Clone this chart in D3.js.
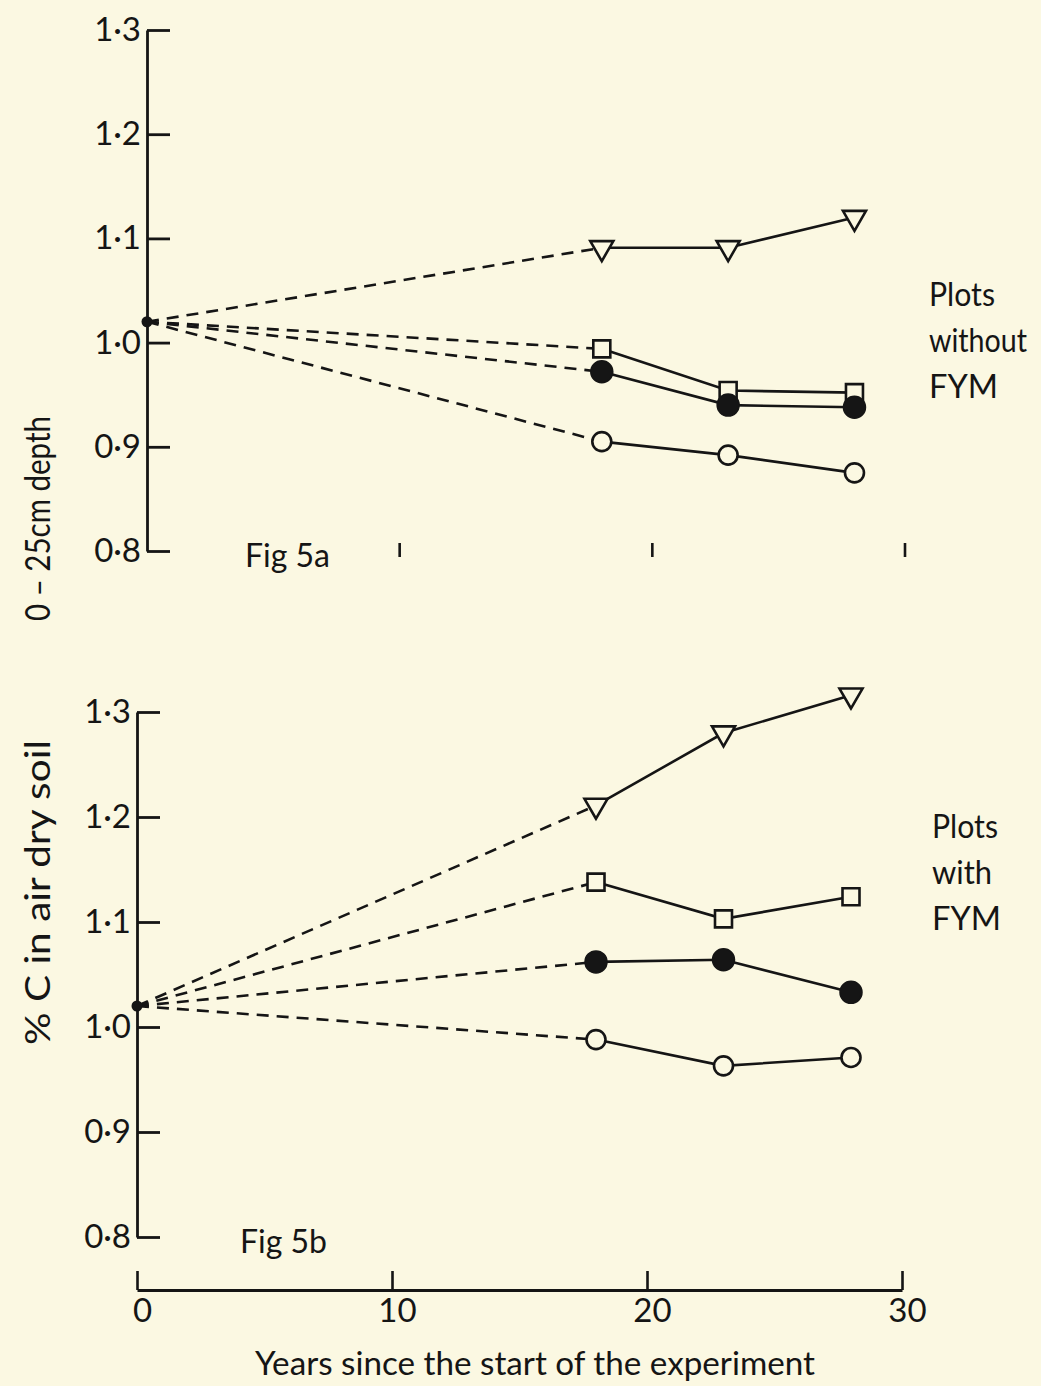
<!DOCTYPE html>
<html>
<head>
<meta charset="utf-8">
<script src="https://cdn.jsdelivr.net/npm/d3@7"></script>
<style>
  html, body { margin: 0; padding: 0; background: #fbf8e2; }
  svg { display: block; }
  text { font-family: Lato, "Noto Sans", sans-serif; fill: #151515; }
</style>
</head>
<body>
<svg id="chart" width="1041" height="1386"></svg>
<script>
// ---- data ----
const years = [18, 23, 28];
const startYear = 0;
const startValue = 1.02;
const yTicks = [0.8, 0.9, 1.0, 1.1, 1.2, 1.3];
const xTicks = [0, 10, 20, 30];

// Fig 5a: plots without FYM
const noFymTriangle = [1.091, 1.091, 1.120];
const noFymSquare   = [0.994, 0.954, 0.952];
const noFymFilled   = [0.972, 0.940, 0.938];
const noFymOpen     = [0.905, 0.892, 0.875];

// Fig 5b: plots with FYM
const fymTriangle = [1.211, 1.280, 1.316];
const fymSquare   = [1.138, 1.103, 1.124];
const fymFilled   = [1.062, 1.064, 1.033];
const fymOpen     = [0.988, 0.963, 0.971];

const ink = "#151515";
const paper = "#fbf8e2";
const svg = d3.select("#chart");
svg.append("rect").attr("width", 1041).attr("height", 1386).attr("fill", paper);

const fmt = d => d3.format(".1f")(d).replace(".", "·");

function panel(cfg) {
  const { x, y, series, figLabel, plotLabel, showXAxis } = cfg;
  const g = svg.append("g");

  const yAxis = d3.axisLeft(y).tickValues(yTicks).tickSizeInner(-23).tickSizeOuter(0)
    .tickPadding(6).tickFormat(fmt);
  const ya = g.append("g").attr("transform", `translate(${x(0)},0)`).call(yAxis);
  ya.select(".domain").attr("stroke", ink).attr("stroke-width", 2.8);
  ya.selectAll(".tick line").attr("stroke", ink).attr("stroke-width", 2.8);
  ya.selectAll(".tick text").attr("font-size", 33).attr("fill", ink)
    .style("font-family", "Lato, 'Noto Sans', sans-serif");

  const line = d3.line().x(d => x(d[0])).y(d => y(d[1]));

  series.forEach(s => {
    const pts = years.map((yr, i) => [yr, s.values[i]]);
    g.append("path").attr("d", line([[startYear, startValue], pts[0]]))
      .attr("fill", "none").attr("stroke", ink).attr("stroke-width", 2.6)
      .attr("stroke-dasharray", "12,8");
    g.append("path").attr("d", line(pts))
      .attr("fill", "none").attr("stroke", ink).attr("stroke-width", 2.6);
  });

  series.forEach(s => {
    years.forEach((yr, i) => {
      const cx = x(yr), cy = y(s.values[i]);
      if (s.shape === "triangle") {
        g.append("path")
          .attr("d", d3.symbol(d3.symbolTriangle, 230)())
          .attr("transform", `translate(${cx},${cy}) rotate(180)`)
          .attr("fill", paper).attr("stroke", ink).attr("stroke-width", 2.6);
      } else if (s.shape === "square") {
        g.append("path")
          .attr("d", d3.symbol(d3.symbolSquare, 17 * 17)())
          .attr("transform", `translate(${cx},${cy})`)
          .attr("fill", paper).attr("stroke", ink).attr("stroke-width", 2.6);
      } else if (s.shape === "filled") {
        g.append("circle").attr("cx", cx).attr("cy", cy).attr("r", 11)
          .attr("fill", ink).attr("stroke", ink).attr("stroke-width", 1.5);
      } else {
        g.append("circle").attr("cx", cx).attr("cy", cy).attr("r", 9.5)
          .attr("fill", paper).attr("stroke", ink).attr("stroke-width", 2.6);
      }
    });
  });

  g.append("circle").attr("cx", x(startYear)).attr("cy", y(startValue)).attr("r", 5.5).attr("fill", ink);

  g.append("text").attr("x", figLabel.x).attr("y", figLabel.y).attr("font-size", 32).text(figLabel.text);

  const pl = g.append("text").attr("font-size", 33);
  plotLabel.lines.forEach((t, i) => {
    const ts = pl.append("tspan").attr("x", plotLabel.x).attr("y", plotLabel.y + i * 46).text(t);
    if (plotLabel.widths && plotLabel.widths[i]) {
      ts.attr("textLength", plotLabel.widths[i]).attr("lengthAdjust", "spacingAndGlyphs");
    }
  });

  if (showXAxis) {
    const xa = g.append("g").attr("transform", `translate(0,${showXAxis})`)
      .call(d3.axisBottom(x).tickValues(xTicks).tickSizeInner(-19).tickSizeOuter(0).tickPadding(9).tickFormat(d3.format("d")));
    xa.select(".domain").attr("stroke", ink).attr("stroke-width", 2.8);
    xa.selectAll(".tick line").attr("stroke", ink).attr("stroke-width", 2.6);
    xa.selectAll(".tick text").attr("font-size", 33).attr("fill", ink).attr("dx", 5)
      .style("font-family", "Lato, 'Noto Sans', sans-serif");
  } else {
    g.selectAll(".mini").data(xTicks.slice(1)).enter().append("line")
      .attr("x1", d => x(d)).attr("x2", d => x(d))
      .attr("y1", y(0.8) - 8).attr("y2", y(0.8) + 6)
      .attr("stroke", ink).attr("stroke-width", 2.6);
  }
}

panel({
  x: d3.scaleLinear().domain([0, 30]).range([147, 905]),
  y: d3.scaleLinear().domain([0.8, 1.3]).range([551, 30]),
  series: [
    { shape: "triangle", values: noFymTriangle },
    { shape: "square", values: noFymSquare },
    { shape: "filled", values: noFymFilled },
    { shape: "open", values: noFymOpen }
  ],
  figLabel: { text: "Fig 5a", x: 245, y: 567 },
  plotLabel: { lines: ["Plots", "without", "FYM"], widths: [66, 98, 69], x: 929, y: 306 },
  showXAxis: null
});

panel({
  x: d3.scaleLinear().domain([0, 30]).range([137, 902]),
  y: d3.scaleLinear().domain([0.8, 1.3]).range([1237, 712]),
  series: [
    { shape: "triangle", values: fymTriangle },
    { shape: "square", values: fymSquare },
    { shape: "filled", values: fymFilled },
    { shape: "open", values: fymOpen }
  ],
  figLabel: { text: "Fig 5b", x: 240, y: 1253 },
  plotLabel: { lines: ["Plots", "with", "FYM"], widths: [66, 60, 69], x: 932, y: 838 },
  showXAxis: 1290
});

svg.append("text")
  .attr("transform", "translate(50,1045) rotate(-90)")
  .attr("font-size", 34).attr("text-anchor", "start")
  .attr("textLength", 305).attr("lengthAdjust", "spacingAndGlyphs")
  .text("% C in air dry soil");
svg.append("text")
  .attr("transform", "translate(50,416) rotate(-90)")
  .attr("font-size", 34).attr("text-anchor", "end")
  .attr("textLength", 205).attr("lengthAdjust", "spacingAndGlyphs")
  .text("0 – 25cm depth");

svg.append("text")
  .attr("x", 535).attr("y", 1375).attr("text-anchor", "middle")
  .attr("font-size", 32)
  .attr("textLength", 560).attr("lengthAdjust", "spacingAndGlyphs")
  .text("Years since the start of the experiment");
</script>
</body>
</html>
